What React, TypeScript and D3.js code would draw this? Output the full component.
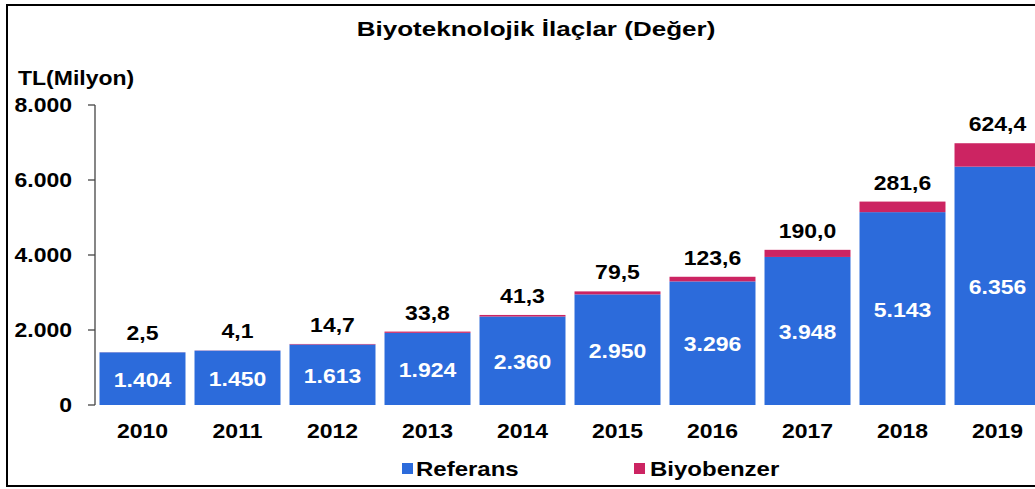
import React from "react";
import * as d3 from "d3";

const years = ["2010", "2011", "2012", "2013", "2014", "2015", "2016", "2017", "2018", "2019"];
const referans = [1404, 1450, 1613, 1924, 2360, 2950, 3296, 3948, 5143, 6356];
const biyobenzer = [2.5, 4.1, 14.7, 33.8, 41.3, 79.5, 123.6, 190.0, 281.6, 624.4];
const refLabels = ["1.404", "1.450", "1.613", "1.924", "2.360", "2.950", "3.296", "3.948", "5.143", "6.356"];
const bioLabels = ["2,5", "4,1", "14,7", "33,8", "41,3", "79,5", "123,6", "190,0", "281,6", "624,4"];
const yTicks = [0, 2000, 4000, 6000, 8000];
const yTickLabels = ["0", "2.000", "4.000", "6.000", "8.000"];

const BLUE = "#2c6bdb";
const MAGENTA = "#cc2462";
const FONT = "'Liberation Sans', Arial, sans-serif";
const SX = 1.15;

function T(props: {
  x: number; y: number; text: string; size: number; anchor?: string; fill?: string; sx?: number;
}) {
  const { x, y, text, size, anchor = "middle", fill = "#000", sx = SX } = props;
  return (
    <text
      transform={`translate(${x},${y}) scale(${sx},1)`}
      fontSize={size}
      fontWeight="bold"
      fontFamily={FONT}
      textAnchor={anchor}
      fill={fill}
    >
      {text}
    </text>
  );
}

export default function App() {
  const W = 1035;
  const H = 489;
  const x = d3.scaleBand<string>().domain(years).range([95, 1045]).paddingInner(0.095).paddingOuter(0.0475);
  const y = d3.scaleLinear().domain([0, 8000]).range([405, 105]);
  const bw = x.bandwidth();

  return (
    <svg width={W} height={H} style={{ position: "absolute", left: 0, top: 0, background: "#fff" }}>
      <rect x={0} y={0} width={W} height={H} fill="#fff" />
      <rect x={7} y={5} width={W + 20} height={481} fill="none" stroke="#000" strokeWidth={2} />
      <T x={536} y={36} text="Biyoteknolojik İlaçlar (Değer)" size={21} sx={1.24} />
      <T x={18} y={85} text="TL(Milyon)" size={20} anchor="start" />

      {/* y axis */}
      <line x1={95} x2={95} y1={y(8000)} y2={y(0)} stroke="#444" strokeWidth={1.3} />
      {yTicks.map((t, i) => (
        <g key={t}>
          <line x1={88} x2={95} y1={y(t)} y2={y(t)} stroke="#444" strokeWidth={1.3} />
          <T x={72} y={y(t) + 7} text={yTickLabels[i]} size={20} anchor="end" />
        </g>
      ))}

      {years.map((yr, i) => {
        const x0 = x(yr) as number;
        const cx = x0 + bw / 2;
        const top1 = y(referans[i]);
        const top2 = y(referans[i] + biyobenzer[i]);
        return (
          <g key={yr}>
            <rect x={x0} y={top1} width={bw} height={y(0) - top1} fill={BLUE} />
            <rect x={x0} y={top2} width={bw} height={top1 - top2} fill={MAGENTA} />
            <T x={cx} y={(top1 + y(0)) / 2 + 8} text={refLabels[i]} size={20} fill="#fff" />
            <T x={cx} y={top2 - 12} text={bioLabels[i]} size={20} />
            <T x={cx} y={438} text={yr} size={20} />
          </g>
        );
      })}

      {/* legend */}
      <rect x={402} y={463} width={11} height={11} fill={BLUE} />
      <T x={416} y={476} text="Referans" size={20} anchor="start" sx={1.2} />
      <rect x={634} y={463} width={11} height={11} fill={MAGENTA} />
      <T x={650} y={476} text="Biyobenzer" size={20} anchor="start" sx={1.2} />
    </svg>
  );
}
